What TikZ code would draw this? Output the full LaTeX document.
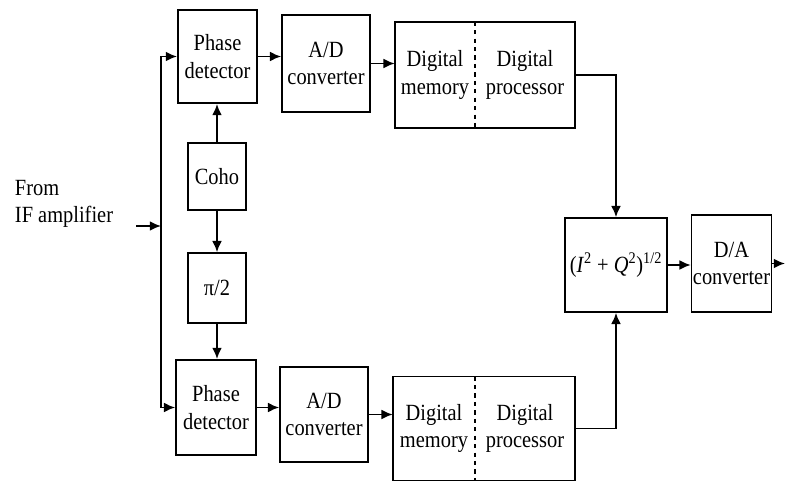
\documentclass[tikz,border=0pt]{standalone}
\usepackage{fontspec}
\setmainfont{Liberation Serif}[FakeStretch=0.88]
\usetikzlibrary{positioning, arrows.meta, calc}

\begin{document}
\begin{tikzpicture}[
  x=0.025cm, y=-0.025cm,
  font=\fontsize{16.5}{19.5}\selectfont,
  blk/.style={draw=black, line width=1.2pt, align=center, inner sep=1pt},
  half/.style={align=center, inner sep=1pt},
  arr/.style={-{Latex[length=8pt, width=7pt]}, line width=1.2pt},
  ln/.style={line width=1.2pt}
]
\useasboundingbox (0,0) rectangle (785,486);

% input label and splitter
\node[align=left, anchor=west] (src) at (10,204) {From\\IF amplifier};
\coordinate (split) at (161,226);

% upper channel
\node[blk, minimum width=1.98cm, minimum height=2.33cm] (pd1) at (217.5,56.5) {Phase\\detector};
\node[blk, minimum width=2.2cm, minimum height=2.43cm] (ad1) at (326,63.5) {A/D\\converter};
\node[half, minimum width=2cm, minimum height=2.65cm] (dm1) at (435,75) {Digital\\memory};
\node[half, minimum width=2.5cm, minimum height=2.65cm] (dp1) at (525,75) {Digital\\processor};

% local oscillator chain
\node[blk, minimum width=1.45cm, minimum height=1.68cm] (coho) at (217,176.5) {Coho};
\node[blk, minimum width=1.45cm, minimum height=1.75cm] (pi2) at (217,288) {π/2};

% lower channel
\node[blk, minimum width=2cm, minimum height=2.38cm] (pd2) at (216,407.5) {Phase\\detector};
\node[blk, minimum width=2.2cm, minimum height=2.38cm] (ad2) at (324,414.5) {A/D\\converter};
\node[half, minimum width=2.05cm, minimum height=2.58cm] (dm2) at (434,428.5) {Digital\\memory};
\node[half, minimum width=2.5cm, minimum height=2.58cm] (dp2) at (525,428.5) {Digital\\processor};

% magnitude and output
\node[blk, minimum width=2.55cm, minimum height=2.35cm] (sq) at (616,265)
  {(\textit{I}\textsuperscript{2} + \textit{Q}\textsuperscript{2})\textsuperscript{1/2}};
\node[blk, minimum width=1.93cm, minimum height=2.43cm] (da) at (731.5,263.5) {D/A\\converter};
\coordinate (out) at (785,263.5);

% memory / processor frames
\draw[ln] (dm1.south west) rectangle (dp1.north east);
\draw[ln, dashed] (dm1.north east) -- (dm1.south east);
\draw[ln] (dm2.south west) rectangle (dp2.north east);
\draw[ln, dashed] (dm2.north east) -- (dm2.south east);

% connectors
\draw[arr] ([xshift=13pt]src.east |- split) -- (split);
\draw[arr] (split) |- (pd1.west);
\draw[arr] (split) |- (pd2.west);
\draw[arr] (pd1.east) -- (pd1.east -| ad1.west);
\draw[arr] (ad1.east) -- (ad1.east -| dm1.west);
\draw[arr] (pd2.east) -- (pd2.east -| ad2.west);
\draw[arr] (ad2.east) -- (ad2.east -| dm2.west);
\draw[arr] (coho.north) -- (coho.north |- pd1.south);
\draw[arr] (coho.south) -- (coho.south |- pi2.north);
\draw[arr] (pi2.south) -- (pi2.south |- pd2.north);
\draw[arr] (dp1.east) -| (sq.north);
\draw[arr] (dp2.east) -| (sq.south);
\draw[arr] (sq.east) -- (sq.east -| da.west);
\draw[arr] (da.east) -- (out);

\end{tikzpicture}
\end{document}
